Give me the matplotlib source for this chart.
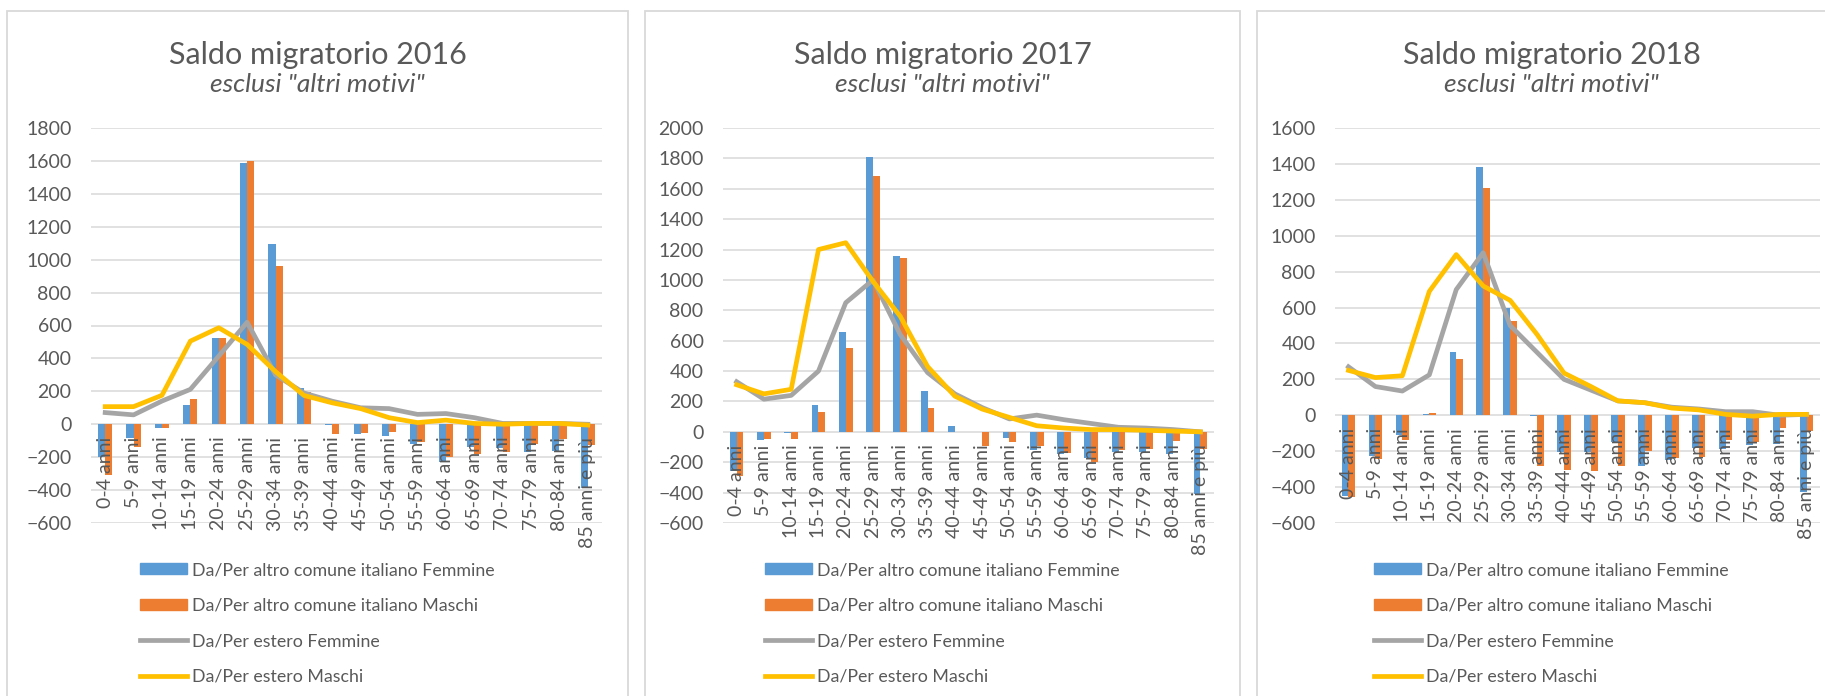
"""saldo migratorio per classe di eta, 2016-2018."""
import numpy as np
import matplotlib
matplotlib.use('Agg')
import matplotlib.pyplot as plt
from matplotlib.patches import Rectangle, Patch
from matplotlib.lines import Line2D

plt.rcParams['font.family'] = ['Lato', 'DejaVu Sans']

eta = ['0-4 anni', '5-9 anni', '10-14 anni', '15-19 anni', '20-24 anni', '25-29 anni',
       '30-34 anni', '35-39 anni', '40-44 anni', '45-49 anni', '50-54 anni', '55-59 anni',
       '60-64 anni', '65-69 anni', '70-74 anni', '75-79 anni', '80-84 anni', '85 anni e più']

serie = ['Da/Per altro comune italiano Femmine', 'Da/Per altro comune italiano Maschi',
         'Da/Per estero Femmine', 'Da/Per estero Maschi']

anni = [2016, 2017, 2018]

# 2016
it_f_2016 = [-198, -81, -25, 117, 524, 1587, 1098, 218, -5, -60, -70, -120, -230, -140, -145, -170, -165, -385]
it_m_2016 = [-307, -137, -25, 152, 524, 1600, 960, 195, -60, -55, -50, -110, -200, -180, -170, -120, -90, -125]
es_f_2016 = [71, 57, 141, 212, 414, 620, 300, 190, 140, 100, 95, 60, 65, 40, 5, 5, 5, 0]
es_m_2016 = [107, 107, 176, 505, 586, 485, 320, 175, 130, 95, 40, 10, 25, 5, 0, 5, 5, -5]

# 2017
it_f_2017 = [-255, -55, -10, 178, 655, 1810, 1160, 270, 40, 0, -40, -120, -145, -170, -130, -135, -145, -410]
it_m_2017 = [-290, -45, -45, 130, 555, 1685, 1145, 160, 0, -95, -65, -95, -140, -200, -120, -110, -60, -110]
es_f_2017 = [330, 215, 240, 400, 850, 1000, 640, 390, 250, 160, 85, 110, 80, 55, 30, 25, 15, 0]
es_m_2017 = [310, 250, 280, 1200, 1245, 990, 760, 430, 235, 150, 95, 40, 25, 15, 15, 10, 5, 0]

# 2018
it_f_2018 = [-450, -225, -110, 5, 355, 1385, 595, -5, -205, -205, -150, -285, -250, -180, -190, -165, -160, -425]
it_m_2018 = [-455, -245, -140, 15, 315, 1265, 525, -285, -305, -310, -280, -200, -240, -230, -140, -150, -70, -90]
es_f_2018 = [270, 160, 135, 225, 700, 905, 500, 350, 200, 140, 80, 70, 45, 35, 20, 20, 0, 5]
es_m_2018 = [250, 210, 220, 690, 895, 720, 640, 450, 235, 160, 80, 70, 40, 30, 5, -5, 5, 5]

ylims = [(-600, 1800), (-600, 2000), (-600, 1600)]

blu, arancio, grigio, giallo = '#5B9BD5', '#ED7D31', '#A5A5A5', '#FFC000'
testo = '#595959'
griglia = '#D9D9D9'

W, H = 1825, 696
fig = plt.figure(figsize=(W / 100, H / 100), dpi=100)

# pixel layout of the three excel charts
bordi = [(7, 628), (645, 1240), (1257, 1846)]
aree = [(91, 602), (723, 1214), (1335, 1820)]
y_top, y_bot = 128, 523

dati = [(it_f_2016, it_m_2016, es_f_2016, es_m_2016),
        (it_f_2017, it_m_2017, es_f_2017, es_m_2017),
        (it_f_2018, it_m_2018, es_f_2018, es_m_2018)]

x = np.arange(len(eta))
w = 0.25

for k in range(3):
    b0, b1 = bordi[k]
    fig.add_artist(Rectangle((b0 / W, -0.05), (b1 - b0) / W, 1.05 - 11 / H,
                             transform=fig.transFigure, fill=False,
                             edgecolor=griglia, lw=1.3))
    cx = (b0 + b1) / 2 / W
    fig.text(cx, 1 - 64 / H, 'Saldo migratorio %d' % anni[k], ha='center', va='baseline',
             fontsize=22, color=testo)
    fig.text(cx, 1 - 92 / H, 'esclusi "altri motivi"', ha='center', va='baseline',
             fontsize=19, style='italic', color=testo)

    x0, x1 = aree[k]
    ax = fig.add_axes([x0 / W, 1 - y_bot / H, (x1 - x0) / W, (y_bot - y_top) / H])
    itf, itm, esf, esm = dati[k]
    ax.bar(x - w / 2, itf, w, color=blu, zorder=2)
    ax.bar(x + w / 2, itm, w, color=arancio, zorder=2)
    ax.plot(x, esf, color=grigio, lw=3.4, zorder=4, solid_joinstyle='round')
    ax.plot(x, esm, color=giallo, lw=3.4, zorder=5, solid_joinstyle='round')

    ax.set_xlim(-0.5, len(eta) - 0.5)
    lo, hi = ylims[k]
    ax.set_ylim(lo, hi)
    ax.set_yticks(np.arange(lo, hi + 1, 200))
    ax.set_xticks([])
    ax.tick_params(axis='y', length=0, pad=14, labelsize=14, labelcolor=testo)
    ax.grid(axis='y', color=griglia, lw=1.1, zorder=0)
    ax.set_axisbelow(True)
    for s in ax.spines.values():
        s.set_visible(False)

    for i, lab in enumerate(eta):
        ax.annotate(lab, xy=(i, 0), xytext=(0, -9), textcoords='offset points',
                    rotation=90, ha='center', va='top', fontsize=14, color=testo,
                    zorder=3, annotation_clip=False)

    handles = [Patch(color=blu), Patch(color=arancio),
               Line2D([], [], color=grigio, lw=3.4), Line2D([], [], color=giallo, lw=3.4)]
    fig.legend(handles, serie, loc='upper center', bbox_to_anchor=(cx, 1 - 546 / H),
               frameon=False, fontsize=12.8, labelcolor=testo, handlelength=2.6,
               handleheight=0.55, handletextpad=0.3, labelspacing=1.1)

fig.savefig('out.png', dpi=100)
